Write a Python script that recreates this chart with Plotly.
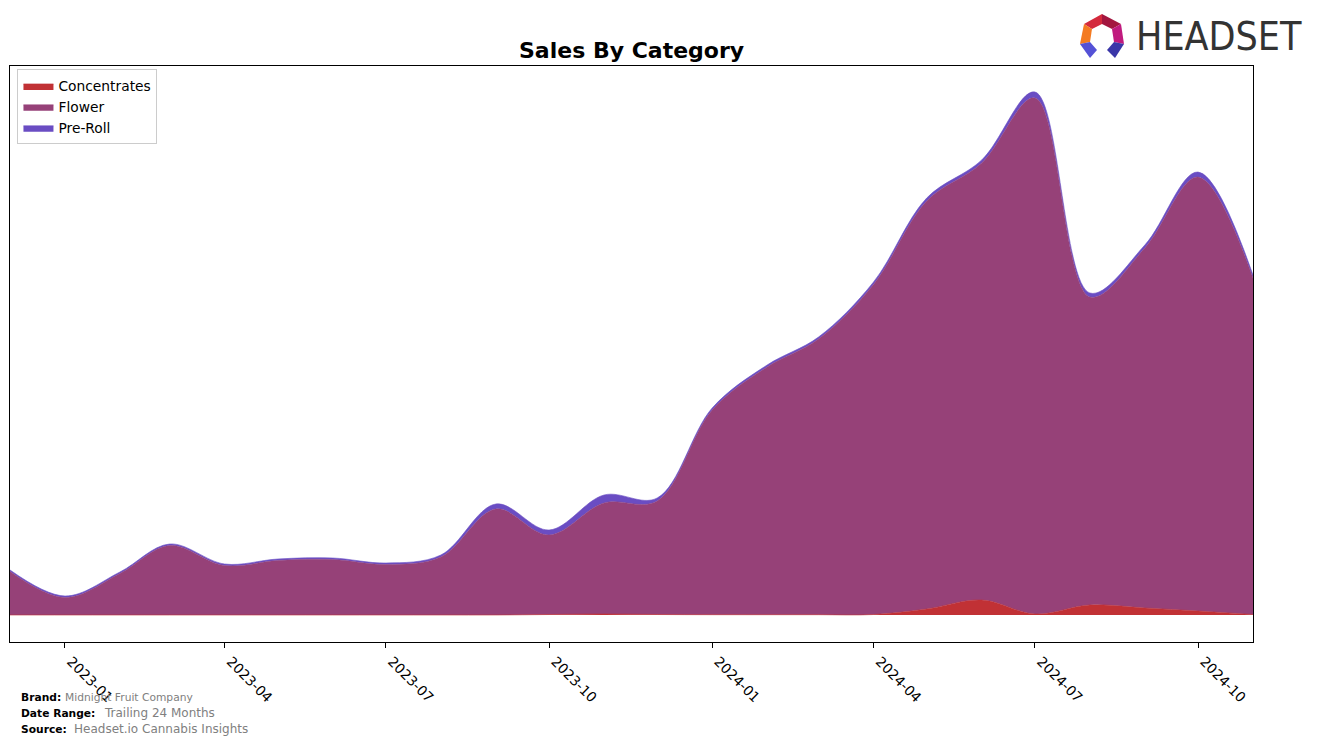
import plotly.graph_objects as go

months = ["2022-12-01", "2023-01-01", "2023-02-01", "2023-03-01", "2023-04-01", "2023-05-01",
          "2023-06-01", "2023-07-01", "2023-08-01", "2023-09-01", "2023-10-01", "2023-11-01",
          "2023-12-01", "2024-01-01", "2024-02-01", "2024-03-01", "2024-04-01", "2024-05-01",
          "2024-06-01", "2024-07-01", "2024-08-01", "2024-09-01", "2024-10-01", "2024-11-01"]

concentrates = [0, 0, 0, 0, 0, 0, 0, 0, 0, 0, 0.5, 1, 0.5, 0.3, 0.3, 0.3, 0.5, 6, 15, 1, 10, 7, 4, 0.5]
flower = [43.5, 17.5, 41.5, 69.5, 49.5, 54.5, 55.5, 50.5, 58, 106, 79.5, 111, 113.5, 204.7,
          247.7, 275.7, 330, 408, 437, 516, 308, 360, 434, 336.5]
pre_roll = [1.5, 1.5, 1.5, 1.5, 1.5, 1.5, 1.5, 1.5, 2, 5, 5, 8, 3, 2, 2, 2, 2.5, 3, 3, 6, 4, 3, 5, 3]

series = [("Concentrates", concentrates, "#C13135"),
          ("Flower", flower, "#964178"),
          ("Pre-Roll", pre_roll, "#6A4DC3")]

fig = go.Figure()
for name, vals, col in series:
    fig.add_trace(go.Scatter(
        x=months, y=vals, name=name, mode="lines", stackgroup="one",
        line=dict(shape="spline", smoothing=1.0, width=0.6, color=col),
        fillcolor=col, hoverinfo="x+y+name"))

W, H = 1317, 745
L, R, T, B = 10, 1253, 66, 642


def px(x):
    return (x - L) / (R - L)


def py(y):
    return (B - y) / (B - T)


annotations = [
    dict(text="<b>Sales By Category</b>", x=0.5, y=py(51), xref="paper", yref="paper",
         showarrow=False, xanchor="center", yanchor="middle",
         font=dict(family="DejaVu Sans", size=22, color="black")),
    dict(text="HEADSET", x=px(1134), y=py(37), xref="paper", yref="paper",
         showarrow=False, xanchor="left", yanchor="middle",
         font=dict(family="Liberation Sans Narrow, DejaVu Sans Condensed, sans-serif", size=39, color="#333333")),
]

footer = [
    ("Brand:", 19, 697, 10.7, "Midnight Fruit Company", 63, 10.7),
    ("Date Range:", 19, 713, 10.7, "Trailing 24 Months", 102, 12),
    ("Source:", 19, 729, 10.7, "Headset.io Cannabis Insights", 72, 12),
]
for lab, lx, ly, ls, val, vx, vs in footer:
    annotations.append(dict(text="<b>" + lab + "</b>", x=px(lx), y=py(ly), xref="paper", yref="paper",
                            showarrow=False, xanchor="left", yanchor="middle",
                            font=dict(family="DejaVu Sans", size=ls, color="black")))
    annotations.append(dict(text=val, x=px(vx), y=py(ly), xref="paper", yref="paper",
                            showarrow=False, xanchor="left", yanchor="middle",
                            font=dict(family="DejaVu Sans", size=vs, color="#808080")))

# logo icon pieces (pixel coords)
icon = [
    ([(1084, 24), (1102, 14), (1102, 24), (1092, 29)], "#D42A3C"),
    ([(1102, 14), (1121, 24), (1112, 29), (1102, 24)], "#A3163F"),
    ([(1084, 24), (1092, 29), (1090, 42), (1080, 44)], "#F47B22"),
    ([(1121, 24), (1124, 44), (1114, 42), (1112, 29)], "#C01A7E"),
    ([(1080, 44), (1090, 42), (1097, 50), (1090, 58)], "#5451D6"),
    ([(1124, 44), (1114, 42), (1107, 50), (1115, 58)], "#3A36A8"),
]
shapes = []
for pts, col in icon:
    path = "M " + " L ".join(f"{px(x):.5f},{py(y):.5f}" for x, y in pts) + " Z"
    shapes.append(dict(type="path", path=path, xref="paper", yref="paper",
                       fillcolor=col, line=dict(width=0)))

fig.update_layout(
    width=W, height=H,
    margin=dict(l=L, r=W - R, t=T, b=H - B, pad=0),
    paper_bgcolor="white", plot_bgcolor="white",
    font=dict(family="DejaVu Sans", size=13.8, color="black"),
    showlegend=True,
    legend=dict(x=0.006, y=0.994, xanchor="left", yanchor="top",
                bgcolor="rgba(255,255,255,0.8)", bordercolor="#CCCCCC", borderwidth=1,
                font=dict(family="DejaVu Sans", size=13.8), traceorder="normal",
                itemwidth=30, tracegroupgap=0),
    annotations=annotations,
    shapes=shapes,
    xaxis=dict(type="date", range=["2022-12-01", "2024-11-01"],
               tick0="2023-01-01", dtick="M3", tickformat="%Y-%m",
               ticks="outside", ticklen=5, tickcolor="black", tickangle=45,
               ticklabelshift=6,
               showline=True, linecolor="black", linewidth=1, mirror=True,
               showgrid=False, zeroline=False,
               tickfont=dict(family="DejaVu Sans", size=13.8, color="black")),
    yaxis=dict(range=[-27, 549], showticklabels=False, ticks="",
               showline=True, linecolor="black", linewidth=1, mirror=True,
               showgrid=False, zeroline=False),
)

fig.write_html("out.html")
